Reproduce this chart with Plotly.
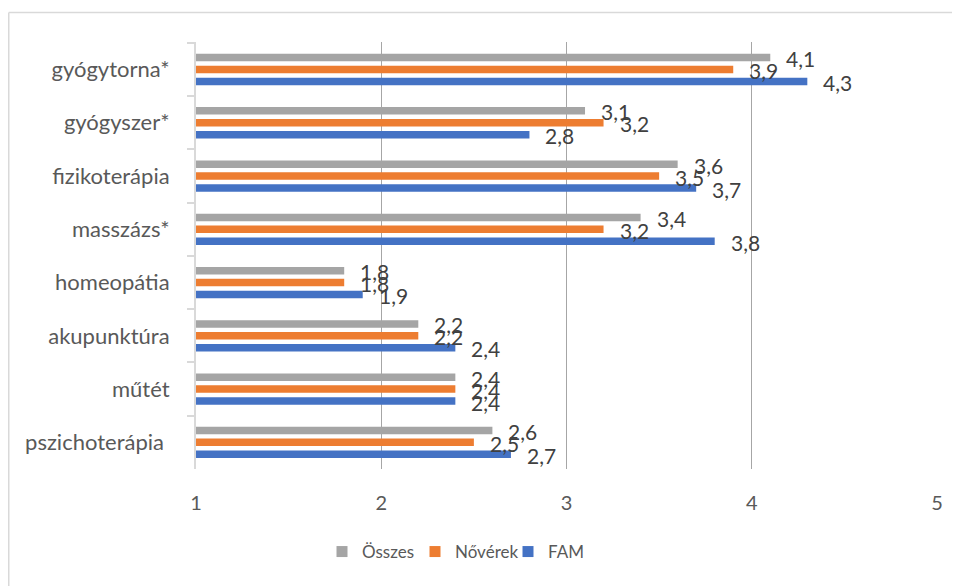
import plotly.graph_objects as go

categories = ["gyógytorna*", "gyógyszer*", "fizikoterápia", "masszázs*",
              "homeopátia", "akupunktúra", "műtét", "pszichoterápia "]
series_names = ["Összes", "Nővérek", "FAM"]
osszes = [4.1, 3.1, 3.6, 3.4, 1.8, 2.2, 2.4, 2.6]
noverek = [3.9, 3.2, 3.5, 3.2, 1.8, 2.2, 2.4, 2.5]
fam = [4.3, 2.8, 3.7, 3.8, 1.9, 2.4, 2.4, 2.7]
x_ticks = [1, 2, 3, 4, 5]

colors = ["#a5a5a5", "#ed7d31", "#4472c4"]
label_yshift = [11, -1, -13]
FONT = "Lato"

OFF = 8  # page body margin offset
W, H = 960, 586
L, T = 196 - OFF, 42 - OFF
pw, ph = 741, 427
R = W - L - pw
B = H - T - ph

fig = go.Figure()
all_series = [osszes, noverek, fam]
for name, vals, col in zip(series_names, all_series, colors):
    fig.add_trace(go.Bar(
        y=categories, x=[v - x_ticks[0] for v in vals], base=x_ticks[0],
        orientation="h", name=name, marker=dict(color=col, line=dict(width=0)),
        showlegend=False, hoverinfo="skip"))
    fig.add_trace(go.Scatter(
        x=[None], y=[None], mode="markers", name=name,
        marker=dict(symbol="square", size=11, color=col)))

annotations = []
for vals, ys in zip(all_series, label_yshift):
    for c, v in zip(categories, vals):
        annotations.append(dict(
            x=v, y=c, text=f"{v:.1f}".replace(".", ","), showarrow=False,
            xanchor="left", yanchor="middle", xshift=14, yshift=ys,
            font=dict(family=FONT, size=21, color="#404040")))

def px_x(p):
    return (p - OFF - L) / pw

def px_y(p):
    return (H - B - (p - OFF)) / ph

shapes = [
    dict(type="line", xref="paper", yref="paper", x0=px_x(OFF + 0.75), x1=px_x(W + 20),
         y0=px_y(12.5), y1=px_y(12.5), line=dict(color="#d9d9d9", width=1.5)),
    dict(type="line", xref="paper", yref="paper", x0=px_x(OFF + 0.75), x1=px_x(OFF + 0.75),
         y0=px_y(12.5), y1=px_y(H + 20), line=dict(color="#d9d9d9", width=1.5)),
]

fig.update_layout(
    width=W, height=H,
    margin=dict(l=L, r=R, t=T, b=B),
    paper_bgcolor="white", plot_bgcolor="white",
    barmode="group", bargap=0.33, bargroupgap=0.37,
    font=dict(family=FONT, color="#595959", size=20),
    annotations=annotations, shapes=shapes,
    legend=dict(orientation="h", x=px_x(322), xanchor="left", y=px_y(552),
                yanchor="middle", font=dict(family=FONT, size=17, color="#595959"),
                itemwidth=30, entrywidth=48, entrywidthmode="pixels",
                traceorder="normal"),
    xaxis=dict(range=[x_ticks[0], x_ticks[-1]], tickvals=x_ticks,
               ticktext=[str(t) for t in x_ticks],
               showgrid=True, gridcolor="#a6a6a6", gridwidth=1.3,
               zeroline=False, showline=False, ticks="",
               ticklabelstandoff=20, tickfont=dict(size=20, color="#595959")),
    yaxis=dict(categoryorder="array", categoryarray=categories,
               autorange="reversed", showline=True, linecolor="#d9d9d9",
               linewidth=2, ticks="outside", tickson="boundaries",
               ticklen=7, tickcolor="#d9d9d9", tickwidth=1.5,
               showgrid=False, ticklabelstandoff=20,
               tickfont=dict(size=22, color="#595959")),
)

fig.write_html("out.html")
